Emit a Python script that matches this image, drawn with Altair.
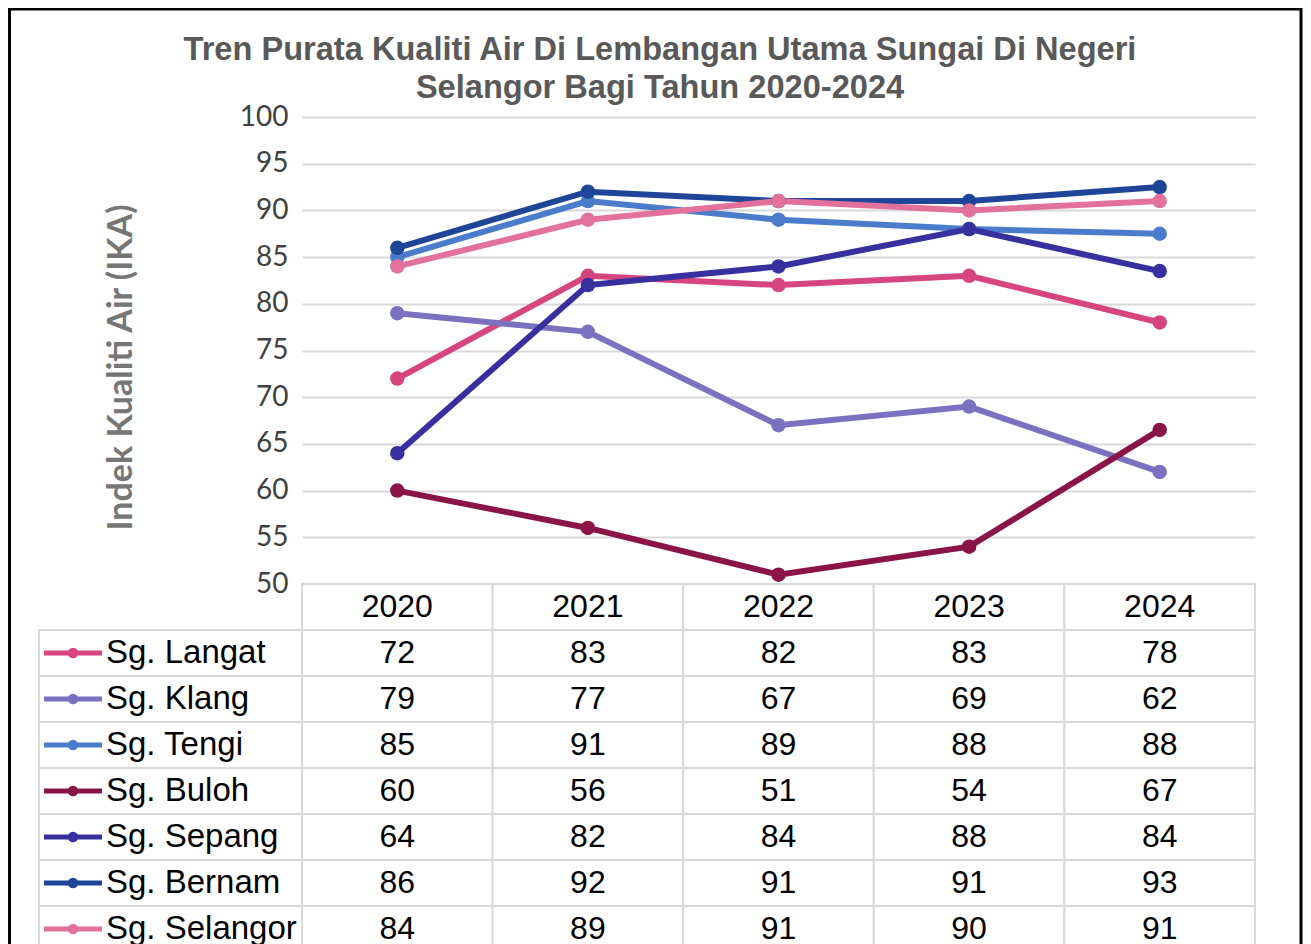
import altair as alt
import pandas as pd

# ---------------- data ----------------
title_lines = ["Tren Purata Kualiti Air Di Lembangan Utama Sungai Di Negeri",
               "Selangor Bagi Tahun 2020-2024"]
years = ["2020", "2021", "2022", "2023", "2024"]
series = ["Sg. Langat", "Sg. Klang", "Sg. Tengi", "Sg. Buloh",
          "Sg. Sepang", "Sg. Bernam", "Sg. Selangor"]
colors = ["#D6457D", "#7A72C0", "#4A7CCB", "#8A1448",
          "#38309E", "#1E4597", "#E2729B"]

langat = [72, 83, 82, 83, 78]
klang = [79, 77, 67, 69, 62]
tengi = [85, 91, 89, 88, 87.5]
buloh = [60, 56, 51, 54, 66.5]
sepang = [64, 82, 84, 88, 83.5]
bernam = [86, 92, 91, 91, 92.5]
selangor = [84, 89, 91, 90, 91]

# values printed in the data table
langat_tbl = [72, 83, 82, 83, 78]
klang_tbl = [79, 77, 67, 69, 62]
tengi_tbl = [85, 91, 89, 88, 88]
buloh_tbl = [60, 56, 51, 54, 67]
sepang_tbl = [64, 82, 84, 88, 84]
bernam_tbl = [86, 92, 91, 91, 93]
selangor_tbl = [84, 89, 91, 90, 91]

y_ticks = [50, 55, 60, 65, 70, 75, 80, 85, 90, 95, 100]

plotted = [langat, klang, tengi, buloh, sepang, bernam, selangor]
printed = [langat_tbl, klang_tbl, tengi_tbl, buloh_tbl, sepang_tbl, bernam_tbl, selangor_tbl]

line_rows = []
table_rows = []
for s, vals, tvals in zip(series, plotted, printed):
    for y, v, t in zip(years, vals, tvals):
        line_rows.append({"series": s, "year": y, "value": v})
        table_rows.append({"row": s, "year": y, "label": str(t)})
df_lines = pd.DataFrame(line_rows)
df_table = pd.DataFrame(table_rows)
HDR = "hdr"
df_header = pd.DataFrame({"row": [HDR] * len(years), "year": years})
df_labels = pd.DataFrame({"row": series, "series": series})

# ---------------- layout ----------------
W = 953
PLOT_H = 467
ROW_H = 46
N_ROWS = len(series) + 1
H = PLOT_H + ROW_H * N_ROWS

GRID = "#d9d9d9"
TXT_FONT = "Liberation Sans"

xscale = alt.Scale(type="band", domain=years, paddingInner=0, paddingOuter=0)
yscale = alt.Scale(domain=[50, 100], range=[PLOT_H, 0], nice=False, zero=False)
tscale = alt.Scale(type="band", domain=[HDR] + series,
                   range=[PLOT_H, PLOT_H + ROW_H * N_ROWS],
                   paddingInner=0, paddingOuter=0)
cscale = alt.Scale(domain=series, range=colors)

X = alt.X("year:N", scale=xscale, axis=None)
TY = alt.Y("row:N", scale=tscale, axis=None)

yaxis = alt.Axis(values=y_ticks, grid=True, gridColor=GRID, gridWidth=2,
                 domain=False, ticks=False,
                 labelFont="Lato", labelFontSize=28, labelColor="#404040",
                 labelPadding=14,
                 title="Indek Kualiti Air (IKA)", titleFont="Lato",
                 titleFontSize=34, titleFontWeight="bold", titleColor="#767676",
                 titleX=-181, titleY=250, titleAngle=270,
                 titleAlign="center", titleBaseline="middle")

lines = alt.Chart(df_lines).mark_line(strokeWidth=6).encode(
    x=X,
    y=alt.Y("value:Q", scale=yscale, axis=yaxis),
    color=alt.Color("series:N", scale=cscale, legend=None),
)
points = alt.Chart(df_lines).mark_circle(size=210, opacity=1).encode(
    x=X,
    y=alt.Y("value:Q", scale=yscale, axis=yaxis),
    color=alt.Color("series:N", scale=cscale, legend=None),
)
plot = alt.layer(lines, points)

cells_hdr = alt.Chart(df_header).mark_rect(fill="white", stroke=GRID, strokeWidth=2).encode(x=X, y=TY)
cells_val = alt.Chart(df_table).mark_rect(fill="white", stroke=GRID, strokeWidth=2).encode(x=X, y=TY)
cells_lab = alt.Chart(df_labels).mark_rect(fill="white", stroke=GRID, strokeWidth=2).encode(
    x=alt.value(-263), x2=alt.value(0), y=TY)
hdr_text = alt.Chart(df_header).mark_text(font=TXT_FONT, fontSize=32, color="black",
                                          baseline="middle").encode(x=X, y=TY, text="year:N")
val_text = alt.Chart(df_table).mark_text(font=TXT_FONT, fontSize=32, color="black",
                                         baseline="middle").encode(x=X, y=TY, text="label:N")
lab_text = alt.Chart(df_labels).mark_text(font=TXT_FONT, fontSize=33, color="black",
                                          baseline="middle", align="left").encode(
    x=alt.value(-196), y=TY, text="series:N")
key_rule = alt.Chart(df_labels).mark_rule(strokeWidth=5).encode(
    x=alt.value(-258), x2=alt.value(-200), y=TY,
    color=alt.Color("series:N", scale=cscale, legend=None))
key_dot = alt.Chart(df_labels).mark_circle(size=110, opacity=1).encode(
    x=alt.value(-229), y=TY,
    color=alt.Color("series:N", scale=cscale, legend=None))
table = alt.layer(cells_hdr, cells_val, cells_lab, hdr_text, val_text, lab_text, key_rule, key_dot)

frame = alt.Chart(pd.DataFrame({"f": [0]})).mark_rect(
    filled=False, stroke="black", strokeWidth=3).encode(
    x=alt.value(-292.5), x2=alt.value(999), y=alt.value(-108), y2=alt.value(H + 30))

title = alt.Chart(pd.DataFrame({"t": [0]})).mark_text(
    text=title_lines, font=TXT_FONT, fontSize=32.6, fontWeight="bold", color="#595959",
    align="center", baseline="alphabetic", lineHeight=38).encode(
    x=alt.value(358), y=alt.value(-57))

chart = alt.layer(table, plot, frame, title).resolve_scale(y="independent").properties(
    width=W, height=H,
    autosize="none",
    background="white",
    padding={"left": 294, "top": 109, "right": 48, "bottom": 0},
).configure_view(stroke=None)

chart.save("out.html", embed_options={"renderer": "svg", "actions": False})
